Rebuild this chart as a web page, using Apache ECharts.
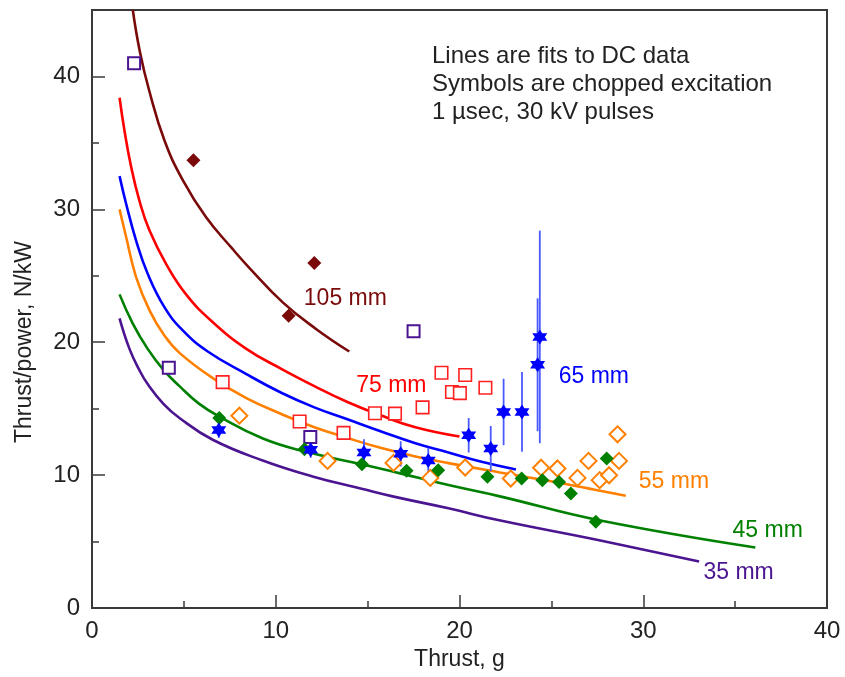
<!DOCTYPE html>
<html>
<head>
<meta charset="utf-8">
<script src="https://cdn.jsdelivr.net/npm/echarts@6/dist/echarts.min.js"></script>
<style>
html,body{margin:0;padding:0;background:#fff;}
#chart{width:845px;height:677px;}
</style>
</head>
<body>
<div id="chart"></div>
<script>
// ---- Data ----
const xTicks = [0, 10, 20, 30, 40];
const yTicks = [0, 10, 20, 30, 40];
const yMinorTicks = [5, 15, 25, 35];

// Fits to DC data: [thrust g, thrust/power N/kW]
const fit105 = [[2.22,45.0],[2.6,41.9],[3.1,39.0],[3.94,35.2],[4.94,32.2],[6.21,29.4],[7.66,27.0],[8.56,25.6],[10.38,23.0],[12.19,21.0],[14.0,19.3]];
const fit75 = [[1.5,38.4],[1.77,35.9],[2.13,33.2],[2.58,30.65],[3.13,28.4],[4.03,25.9],[5.12,23.6],[6.5,21.6],[8.4,19.5],[10.3,18.0],[12.1,16.7],[13.9,15.5],[15.7,14.5],[17.6,13.6],[20.0,12.9]];
const fit65 = [[1.5,32.5],[1.86,30.4],[2.4,27.65],[3.03,25.15],[3.94,22.64],[4.94,20.89],[6.3,19.3],[8.4,17.6],[10.3,16.2],[12.1,15.1],[13.9,14.2],[15.7,13.3],[17.6,12.4],[19.4,11.7],[21.2,11.0],[23.07,10.42]];
const fit55 = [[1.5,30.0],[1.86,27.9],[2.4,24.9],[3.13,22.4],[3.94,20.5],[4.76,19.2],[6.57,17.3],[8.4,15.8],[10.3,14.6],[12.1,13.6],[13.9,12.8],[15.7,12.05],[17.6,11.4],[19.4,10.9],[22.2,10.2],[24.9,9.55],[27.0,9.0],[29.05,8.45]];
const fit45 = [[1.5,23.6],[2.22,21.4],[3.03,19.5],[3.9,17.9],[4.76,16.7],[5.8,15.4],[6.93,14.4],[9.3,12.75],[11.65,11.75],[14.73,10.8],[16.72,10.15],[19.4,9.25],[22.2,8.4],[27.6,6.6],[36.1,4.55]];
const fit35 = [[1.5,21.8],[2.04,19.5],[2.58,17.9],[3.03,16.85],[3.9,15.35],[4.76,14.3],[6.57,12.66],[9.29,11.1],[12.0,9.9],[14.73,8.95],[16.36,8.4],[19.4,7.5],[22.16,6.6],[27.6,5.1],[33.04,3.5]];

// Chopped excitation symbols
const sq35X = [2.29, 4.18, 11.88, 17.5];
const sq35Y = [41.0, 18.08, 12.87, 20.83];
const dia105X = [5.52, 10.7, 12.1];
const dia105Y = [33.7, 22.0, 25.97];
const sq75X = [7.11, 11.3, 13.69, 15.4, 16.49, 17.99, 19.02, 19.59, 20.02, 20.31, 21.41];
const sq75Y = [17.0, 14.03, 13.18, 14.66, 14.63, 15.1, 17.7, 16.25, 16.17, 17.53, 16.57];
const star65X = [6.9, 11.9, 14.8, 16.8, 18.3, 20.5, 21.7, 22.4, 23.4, 24.25, 24.37];
const star65Y = [13.4, 11.9, 11.7, 11.6, 11.1, 13.0, 12.0, 14.75, 14.75, 18.3, 20.4];
const star65Err = [0.6, 0.6, 1.0, 0.95, 0.95, 1.3, 1.7, 2.5, 3.0, 5.0, 8.0];
const dia55X = [8.02, 12.82, 16.41, 18.41, 20.31, 22.79, 24.44, 25.33, 26.42, 27.02, 27.63, 28.14, 28.6, 28.68];
const dia55Y = [14.47, 11.07, 10.92, 9.79, 10.57, 9.74, 10.56, 10.5, 9.79, 11.07, 9.62, 9.99, 13.07, 11.07];
const dia45X = [6.93, 11.56, 14.69, 17.12, 18.84, 21.52, 23.38, 24.51, 25.42, 26.06, 27.42, 28.01];
const dia45Y = [14.3, 11.95, 10.82, 10.32, 10.37, 9.87, 9.74, 9.62, 9.49, 8.62, 6.49, 11.25];

// Curve labels
const labelText = ['105 mm', '75 mm', '65 mm', '55 mm', '45 mm', '35 mm'];
const labelX = [11.5, 14.35, 25.37, 29.73, 34.83, 33.25];
const labelY = [23.3, 16.75, 17.43, 9.47, 5.8, 2.63];

const noteLines = ['Lines are fits to DC data', 'Symbols are chopped excitation', '1 \u00b5sec, 30 kV pulses'];

// ---- Styling ----
const C = {
  c105: '#7a0a0a', c75: '#ff0000', c65: '#0000ff', c55: '#ff8000', c45: '#008000', c35: '#4b1490'
};
const labelColors = [C.c105, C.c75, C.c65, C.c55, C.c45, C.c35];
const FONT = 'Liberation Sans, Arial, sans-serif';
const FS = 24;

const zip = (xs, ys) => xs.map((x, i) => [x, ys[i]]);
const starPath = 'path://M0,-10 L8.66,5 L-8.66,5 Z M0,10 L-8.66,-5 L8.66,-5 Z';

function fitSeries(data, color) {
  return { type: 'line', data: data, smooth: 0.45, symbol: 'none', z: 2,
    lineStyle: { color: color, width: 2.6 }, silent: true, clip: true };
}

const chart = echarts.init(document.getElementById('chart'), null, { renderer: 'canvas' });
chart.setOption({
  animation: false,
  backgroundColor: '#fff',
  grid: { left: 92, right: 18, top: 10, bottom: 69, show: true, borderColor: '#3a3a3a', borderWidth: 2, backgroundColor: 'transparent' },
  xAxis: {
    type: 'value', min: 0, max: 40, interval: 10,
    name: 'Thrust, g', nameLocation: 'middle', nameGap: 40,
    nameTextStyle: { fontFamily: FONT, fontSize: FS - 1, color: '#222' },
    axisLine: { show: true, lineStyle: { color: '#3a3a3a', width: 2 } },
    axisTick: { show: true, inside: true, length: 13, lineStyle: { color: '#3a3a3a', width: 1.5 } },
    minorTick: { show: true, splitNumber: 2, length: 7, lineStyle: { color: '#3a3a3a', width: 1.5 } },
    axisLabel: { fontFamily: FONT, fontSize: FS, color: '#222', margin: 11, customValues: xTicks },
    splitLine: { show: false }
  },
  yAxis: [{
    type: 'value', min: 0, max: 45,
    axisLine: { show: true, lineStyle: { color: '#3a3a3a', width: 2 } },
    axisTick: { show: true, inside: true, length: 13, customValues: yTicks, lineStyle: { color: '#3a3a3a', width: 1.5 } },
    axisLabel: { fontFamily: FONT, fontSize: FS, color: '#222', margin: 12, customValues: yTicks },
    splitLine: { show: false }
  }, {
    type: 'value', min: 0, max: 45, position: 'left',
    axisLine: { show: false },
    axisTick: { show: true, inside: true, length: 7, customValues: yMinorTicks, lineStyle: { color: '#3a3a3a', width: 1.5 } },
    axisLabel: { show: false },
    splitLine: { show: false }
  }],
  graphic: [
    { type: 'text', left: 432, top: 42, style: { text: noteLines.join('\n'), font: FS + 'px ' + FONT, fill: '#222', lineHeight: 28 } },
    { type: 'text', x: 25, y: 342, rotation: Math.PI / 2, style: { text: 'Thrust/power, N/kW', font: (FS - 1) + 'px ' + FONT, fill: '#222', align: 'center', verticalAlign: 'middle' } }
  ],
  series: [
    fitSeries(fit105, C.c105),
    fitSeries(fit75, C.c75),
    fitSeries(fit65, C.c65),
    fitSeries(fit55, C.c55),
    fitSeries(fit45, C.c45),
    fitSeries(fit35, C.c35),
    {
      type: 'custom', z: 3, silent: true,
      data: star65X.map((x, i) => [x, star65Y[i], star65Err[i]]),
      encode: { x: 0, y: 1 },
      renderItem: function (params, api) {
        const x = api.value(0), y = api.value(1), e = api.value(2);
        const p1 = api.coord([x, y - e]);
        const p2 = api.coord([x, y + e]);
        return { type: 'line', shape: { x1: p1[0], y1: p1[1], x2: p2[0], y2: p2[1] },
          style: { stroke: '#4a5aff', lineWidth: 1.8 } };
      }
    },
    { type: 'scatter', z: 4, data: zip(sq35X, sq35Y), symbol: 'rect', symbolSize: 12,
      itemStyle: { color: '#fff', borderColor: C.c35, borderWidth: 2, opacity: 1 } },
    { type: 'scatter', z: 4, data: zip(dia105X, dia105Y), symbol: 'diamond', symbolSize: 14,
      itemStyle: { color: C.c105, opacity: 1 } },
    { type: 'scatter', z: 4, data: zip(sq75X, sq75Y), symbol: 'rect', symbolSize: 12.5,
      itemStyle: { color: '#fff', borderColor: '#ff2020', borderWidth: 1.6, opacity: 1 } },
    { type: 'scatter', z: 4, data: zip(dia55X, dia55Y), symbol: 'diamond', symbolSize: 16,
      itemStyle: { color: '#fff', borderColor: C.c55, borderWidth: 2, opacity: 1 } },
    { type: 'scatter', z: 5, data: zip(dia45X, dia45Y), symbol: 'diamond', symbolSize: 14,
      itemStyle: { color: C.c45, opacity: 1 } },
    { type: 'scatter', z: 6, data: zip(star65X, star65Y), symbol: starPath, symbolSize: 15,
      itemStyle: { color: C.c65, opacity: 1 } },
    { type: 'scatter', z: 7, silent: true, symbolSize: 1,
      data: labelText.map((t, i) => ({ value: [labelX[i], labelY[i]], name: t,
        label: { color: labelColors[i] } })),
      itemStyle: { color: 'rgba(0,0,0,0)', opacity: 1 },
      label: { show: true, position: 'right', distance: 0, formatter: '{b}', fontFamily: FONT, fontSize: FS - 1 } }
  ]
});
</script>
</body>
</html>
